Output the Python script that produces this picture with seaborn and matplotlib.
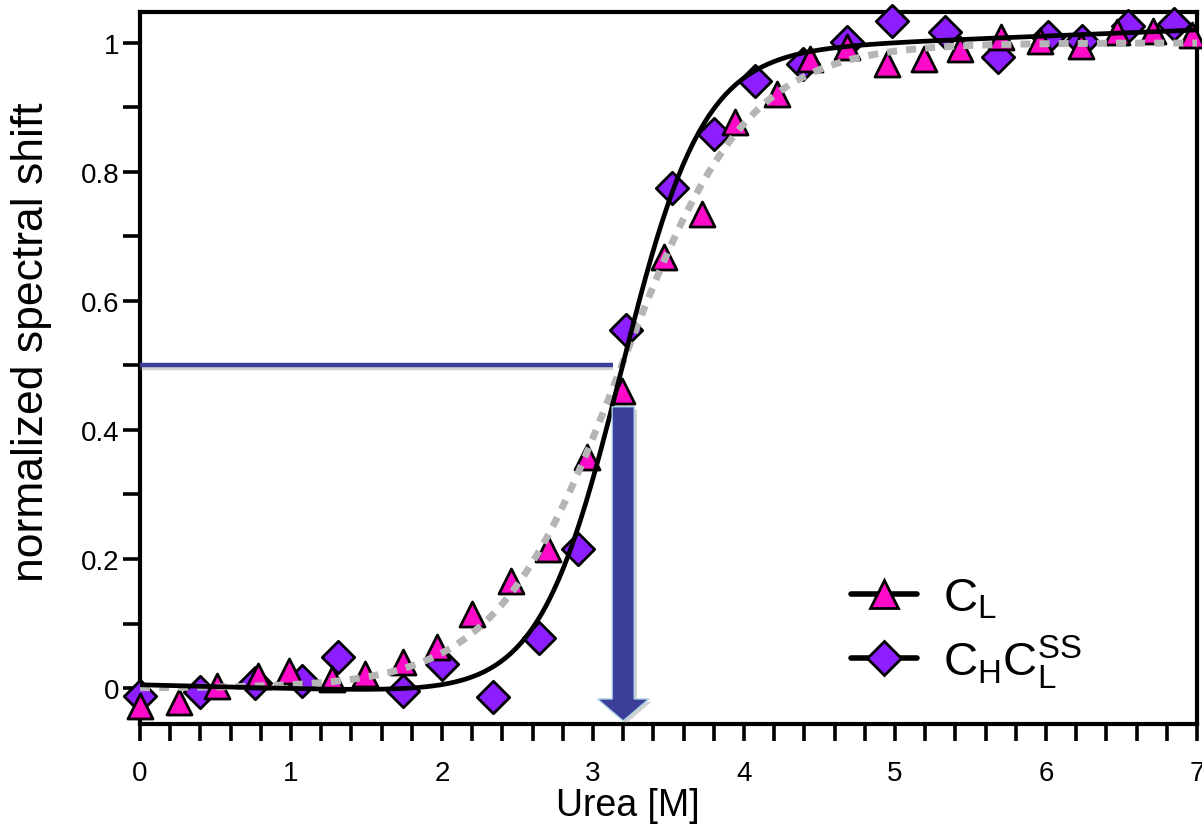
import numpy as np
import pandas as pd
import matplotlib
matplotlib.use("Agg")
import matplotlib.pyplot as plt
import matplotlib.patheffects as pe
from matplotlib.lines import Line2D
from matplotlib.patches import FancyArrow
from matplotlib.ticker import MultipleLocator, FixedLocator, FuncFormatter
import seaborn as sns

# --- measured titration points -------------------------------------------
cl_urea = [0.00, 0.26, 0.51, 0.78, 0.99, 1.27, 1.49, 1.74, 1.97, 2.20, 2.46,
           2.70, 2.96, 3.19, 3.47, 3.72, 3.94, 4.22, 4.44, 4.68, 4.95, 5.19,
           5.43, 5.70, 5.96, 6.23, 6.47, 6.71, 6.97]
cl_shift = [-0.028, -0.022, 0.003, 0.019, 0.026, 0.014, 0.022, 0.040, 0.064,
            0.115, 0.166, 0.216, 0.358, 0.460, 0.668, 0.735, 0.877, 0.921,
            0.975, 0.994, 0.967, 0.975, 0.990, 1.009, 1.003, 0.995, 1.017,
            1.019, 1.012]

chcl_urea = [0.00, 0.40, 0.76, 1.07, 1.31, 1.74, 2.00, 2.34, 2.64, 2.90, 3.22,
             3.52, 3.80, 4.07, 4.39, 4.68, 4.98, 5.33, 5.68, 6.01, 6.24, 6.54,
             6.85]
chcl_shift = [-0.012, -0.006, 0.008, 0.011, 0.048, -0.005, 0.037, -0.014,
              0.078, 0.216, 0.555, 0.775, 0.859, 0.941, 0.967, 1.002, 1.034,
              1.017, 0.978, 1.009, 1.003, 1.026, 1.029]

# --- two-state fit parameters (native / unfolded baselines, midpoint, slope)
cl_fit = dict(n0=0.0, nslope=0.0, u0=1.0, uslope=0.0, mid=3.19, m=2.4)
chcl_fit = dict(n0=0.005, nslope=-0.006, u0=0.955, uslope=0.0093, mid=3.18, m=3.7)

half_signal = 0.5
midpoint_line_end = 3.13
midpoint_arrow = 3.20

cl_label = r"$\mathregular{C_L}$"
chcl_label = r"$\mathregular{C_HC_L^{SS}}$"


def two_state(x, n0, nslope, u0, uslope, mid, m):
    f = 1.0 / (1.0 + np.exp(-m * (x - mid)))
    return (n0 + nslope * x) * (1 - f) + (u0 + uslope * x) * f


sns.set_style("ticks")
plt.rcParams["font.family"] = ["Liberation Sans", "DejaVu Sans"]
plt.rcParams["mathtext.fontset"] = "custom"
plt.rcParams["mathtext.rm"] = "Liberation Sans"
for key in ("text.color", "axes.labelcolor", "xtick.color", "ytick.color"):
    plt.rcParams[key] = "black"

magenta = "#FF0AC8"
purple = "#8C1EFF"
navy = "#3B3F98"

fig = plt.figure(figsize=(12.02, 8.37), dpi=100)
ax = fig.add_axes([140 / 1202, 1 - 725 / 837, 1057 / 1202, 712 / 837])

pts_cl = pd.DataFrame({"urea": cl_urea, "shift": cl_shift})
pts_ch = pd.DataFrame({"urea": chcl_urea, "shift": chcl_shift})

grid = np.linspace(0, 7, 400)
fit_cl = pd.DataFrame({"urea": grid, "shift": two_state(grid, **cl_fit)})
fit_ch = pd.DataFrame({"urea": grid, "shift": two_state(grid, **chcl_fit)})

# data markers
sns.scatterplot(data=pts_ch, x="urea", y="shift", marker="D", s=16.5 ** 2,
                color=purple, edgecolor="black", linewidth=2.0, ax=ax,
                zorder=4, clip_on=False)
sns.scatterplot(data=pts_cl, x="urea", y="shift", marker="^", s=18 ** 2,
                color=magenta, edgecolor="black", linewidth=2.0, ax=ax,
                zorder=5, clip_on=False)

# fitted curves
sns.lineplot(data=fit_cl, x="urea", y="shift", color="#B5B5B5", lw=5,
             ax=ax, zorder=6)
ax.lines[-1].set_dashes([1.45, 1.3])
ax.lines[-1].set_dash_capstyle("butt")
sns.lineplot(data=fit_ch, x="urea", y="shift", color="black", lw=3.4,
             ax=ax, zorder=7)

# half-transition marker line and arrow
ax.plot([0, midpoint_line_end], [half_signal, half_signal], color=navy, lw=3.2,
        zorder=3, solid_capstyle="butt",
        path_effects=[pe.SimpleLineShadow(offset=(0, -2), shadow_color="gray", alpha=0.35),
                      pe.Normal()])
arrow_top = 0.436
arrow_tip = -0.051
arr = FancyArrow(midpoint_arrow, arrow_top, 0, arrow_tip - arrow_top,
                 width=0.146, head_width=0.34, head_length=0.034,
                 length_includes_head=True, facecolor=navy,
                 edgecolor="#A9D6E6", lw=1.0, zorder=8, clip_on=False,
                 path_effects=[pe.SimplePatchShadow(offset=(2, -2), shadow_rgbFace="gray", alpha=0.35),
                               pe.Normal()])
ax.add_patch(arr)

ax.set_xlim(0, 7)
ax.set_ylim(-0.0558, 1.048)

ax.xaxis.set_major_locator(MultipleLocator(1))
ax.xaxis.set_minor_locator(MultipleLocator(0.2))
ax.yaxis.set_major_locator(FixedLocator([0, 0.2, 0.4, 0.6, 0.8, 1.0]))
ax.yaxis.set_minor_locator(FixedLocator([0.1, 0.3, 0.5, 0.7, 0.9]))
ax.yaxis.set_major_formatter(FuncFormatter(lambda v, p: f"{v:g}"))

ax.tick_params(which="both", direction="out", length=12, width=2.6, color="black")
ax.tick_params(axis="x", labelsize=20, pad=14)
ax.tick_params(axis="y", labelsize=20, pad=3)

for sp in ax.spines.values():
    sp.set_linewidth(3)
    sp.set_color("black")

ax.set_xlabel("Urea [M]", fontsize=27)
ax.xaxis.set_label_coords((628 - 140) / 1057, -0.088)
ax.set_ylabel("normalized spectral shift", fontsize=32)
ax.yaxis.set_label_coords(-0.083, (725 - 342) / 712)

handles = [
    Line2D([], [], color="black", lw=4, marker="^", markersize=20,
           markerfacecolor=magenta, markeredgecolor="black", markeredgewidth=2),
    Line2D([], [], color="black", lw=4, marker="D", markersize=17,
           markerfacecolor=purple, markeredgecolor="black", markeredgewidth=2),
]
leg = ax.legend(handles, [cl_label, chcl_label], loc="center left",
                bbox_to_anchor=(0.673, 0.128), frameon=False, fontsize=34,
                handlelength=1.4, handletextpad=0.55, labelspacing=0.25,
                borderpad=0, borderaxespad=0)

fig.savefig("out.png", dpi=100)
